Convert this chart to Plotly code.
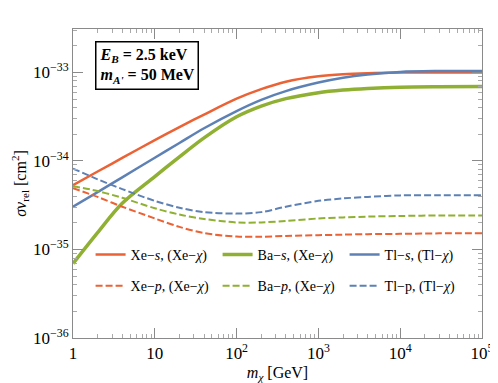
import plotly.graph_objects as go

# dark matter mass [GeV]
m_chi = [1, 2, 4, 10, 20, 40, 100, 200, 400, 1000, 2000, 4000, 1e4, 3e4, 1e5]

# sigma v_rel [cm^2]
xe_s = [5.33e-35, 7.59e-35, 1.08e-34, 1.72e-34, 2.41e-34, 3.34e-34, 5.05e-34, 6.47e-34,
        7.85e-34, 9.02e-34, 9.53e-34, 9.79e-34, 9.95e-34, 1.0e-33, 1.0e-33]
ba_s = [6.93e-36, 1.55e-35, 3.32e-35, 6.65e-35, 1.11e-34, 1.82e-34, 3.15e-34, 4.16e-34,
        5.05e-34, 5.90e-34, 6.32e-34, 6.59e-34, 6.81e-34, 6.89e-34, 6.92e-34]
tl_s = [3.04e-35, 4.45e-35, 6.53e-35, 1.086e-34, 1.596e-34, 2.34e-34, 3.66e-34, 4.90e-34,
        6.15e-34, 7.67e-34, 8.69e-34, 9.44e-34, 1.012e-33, 1.035e-33, 1.04e-33]
xe_p = [4.93e-35, 3.92e-35, 3.04e-35, 2.24e-35, 1.80e-35, 1.53e-35, 1.40e-35, 1.39e-35,
        1.42e-35, 1.45e-35, 1.47e-35, 1.49e-35, 1.5e-35, 1.52e-35, 1.52e-35]
ba_p = [5.19e-35, 4.57e-35, 3.83e-35, 2.92e-35, 2.48e-35, 2.21e-35, 2.02e-35, 2.02e-35,
        2.1e-35, 2.24e-35, 2.3e-35, 2.35e-35, 2.39e-35, 2.42e-35, 2.42e-35]
tl_p = [8.2e-35, 6.2e-35, 4.81e-35, 3.54e-35, 2.96e-35, 2.64e-35, 2.54e-35, 2.64e-35,
        3.04e-35, 3.54e-35, 3.77e-35, 3.92e-35, 4.08e-35, 4.1e-35, 4.1e-35]

x_tickvals = [1, 10, 100, 1000, 1e4, 1e5]
x_ticktext = ["1", "10", "10<sup>2</sup>", "10<sup>3</sup>", "10<sup>4</sup>", "10<sup>5</sup>"]
y_tickvals = [1e-36, 1e-35, 1e-34, 1e-33]
y_ticktext = ["10<sup>−36</sup>", "10<sup>−35</sup>", "10<sup>−34</sup>", "10<sup>−33</sup>"]

RED = "#EB6235"
GREEN = "#8FB032"
BLUE = "#5E81B5"
SERIF = "Liberation Serif"
FRAME = "#8a8a8a"

# minor ticks at 2..9 of every decade
x_minor = [k * 10 ** d for d in range(0, 5) for k in range(2, 10)]
y_minor = [k * 10.0 ** d for d in range(-36, -32) for k in range(2, 10)]

fig = go.Figure()

solid = [
    ("Xe−<i>s</i>, (Xe−<i>χ</i>)", xe_s, RED, 2.5),
    ("Ba−<i>s</i>, (Xe−<i>χ</i>)", ba_s, GREEN, 3.5),
    ("Tl−<i>s</i>, (Tl−<i>χ</i>)", tl_s, BLUE, 2.5),
]
dashed = [
    ("Xe−<i>p</i>, (Xe−<i>χ</i>)", xe_p, RED),
    ("Ba−<i>p</i>, (Xe−<i>χ</i>)", ba_p, GREEN),
    ("Tl−p, (Tl−<i>χ</i>)", tl_p, BLUE),
]

for name, y, c, w in solid:
    fig.add_trace(go.Scatter(x=m_chi, y=y, mode="lines", name=name, legend="legend",
                             line=dict(color=c, width=w, shape="spline", smoothing=0.9)))
for name, y, c in dashed:
    fig.add_trace(go.Scatter(x=m_chi, y=y, mode="lines", name=name, legend="legend2",
                             line=dict(color=c, width=2, dash="7px,3px", shape="spline",
                                       smoothing=0.9)))

axis_common = dict(
    type="log", showgrid=False, zeroline=False,
    showline=True, linecolor=FRAME, linewidth=1, mirror="allticks",
    ticks="inside", ticklen=10, tickcolor=FRAME, tickwidth=1,
    tickfont=dict(family=SERIF, size=17, color="black"),
)

fig.update_xaxes(range=[0, 5], tickvals=x_tickvals, ticktext=x_ticktext,
                 minor=dict(tickvals=x_minor, ticks="inside", ticklen=4,
                            tickcolor="#aaaaaa", showgrid=False),
                 title=dict(text="<i>m<sub>χ</sub></i> [GeV]", standoff=4,
                            font=dict(family=SERIF, size=16, color="black")),
                 **axis_common)
fig.update_yaxes(range=[-36, -32.51], tickvals=y_tickvals, ticktext=y_ticktext,
                 minor=dict(tickvals=y_minor, ticks="inside", ticklen=4,
                            tickcolor="#aaaaaa", showgrid=False),
                 title=dict(text="<i>σv</i><sub>rel</sub> [cm<sup>2</sup>]", standoff=2,
                            font=dict(family=SERIF, size=16, color="black")),
                 **axis_common)

legend_common = dict(orientation="h", xanchor="left", yanchor="middle",
                     entrywidth=82, entrywidthmode="pixels",
                     bgcolor="rgba(0,0,0,0)",
                     font=dict(family=SERIF, size=14, color="black"))

fig.update_layout(
    width=498, height=383,
    margin=dict(l=64, r=12, t=21, b=47),
    plot_bgcolor="white", paper_bgcolor="white",
    legend=dict(x=0.043, y=0.269, **legend_common),
    legend2=dict(x=0.043, y=0.168, **legend_common),
    annotations=[dict(
        text="<b><i>E<sub>B</sub></i> = 2.5 keV</b><br><b><i>m<sub>A'</sub></i> = 50 MeV</b>",
        xref="paper", yref="paper", x=0.055, y=0.96, xanchor="left", yanchor="top",
        showarrow=False, align="left", bordercolor="black", borderwidth=1.5, borderpad=3,
        bgcolor="white", font=dict(family=SERIF, size=16, color="black"))],
)

fig.write_html("out.html")
